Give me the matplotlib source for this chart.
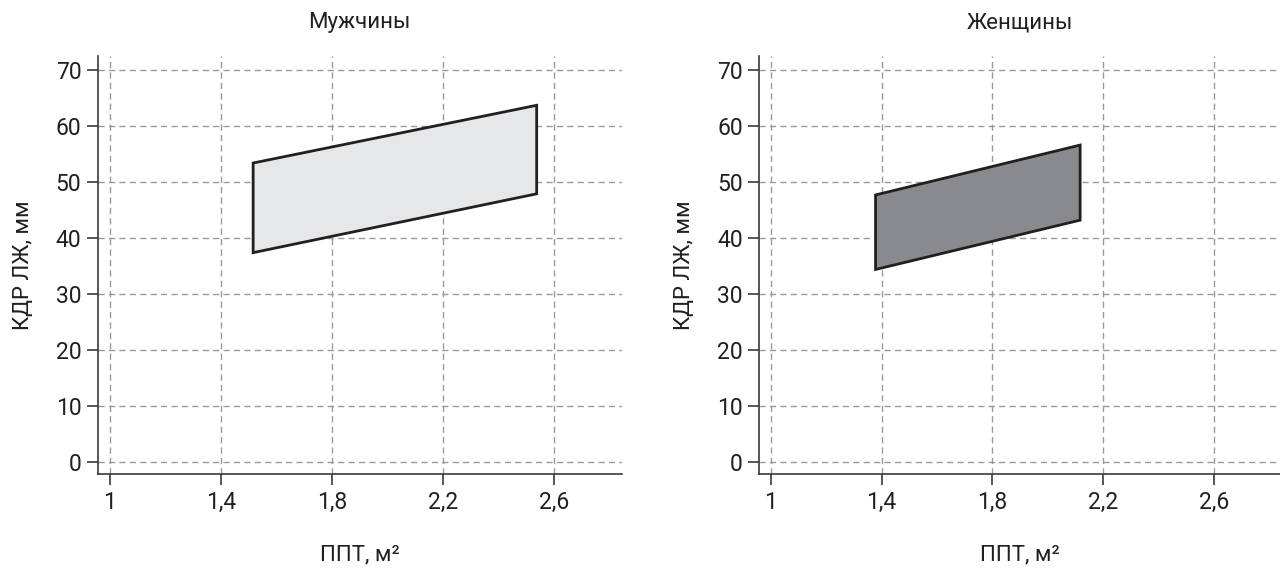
import matplotlib
matplotlib.use("Agg")
import matplotlib.pyplot as plt
from matplotlib.patches import Polygon

# Normal range of LV end-diastolic dimension vs body surface area
panel_titles = ["Мужчины", "Женщины"]
x_label = "ППТ, м²"
y_label = "КДР ЛЖ, мм"

x_ticks = [1.0, 1.4, 1.8, 2.2, 2.6]
x_tick_labels = ["1", "1,4", "1,8", "2,2", "2,6"]
y_ticks = [0, 10, 20, 30, 40, 50, 60, 70]

# Corner points of the normal zone: (BSA, lower, upper)
men_bsa = [1.516, 2.538]
men_lower = [37.4, 47.9]
men_upper = [53.4, 63.7]

women_bsa = [1.378, 2.117]
women_lower = [34.4, 43.2]
women_upper = [47.7, 56.6]

fill_colors = ["#e6e7e8", "#898a8d"]
edge_color = "#231f20"

plt.rcParams["font.family"] = ["Roboto", "DejaVu Sans"]

fig = plt.figure(figsize=(12.8, 5.69), dpi=100)
axes = [
    fig.add_axes([0.0766, 0.167, 0.409, 0.7346]),
    fig.add_axes([0.5932, 0.167, 0.4068, 0.7346]),
]
xlims = [(0.957, 2.844), (0.958, 2.839)]

data = [
    (men_bsa, men_lower, men_upper),
    (women_bsa, women_lower, women_upper),
]

for ax, title, (bsa, lo, hi), fc, xl in zip(axes, panel_titles, data, fill_colors, xlims):
    verts = [(bsa[0], lo[0]), (bsa[1], lo[1]), (bsa[1], hi[1]), (bsa[0], hi[0])]
    ax.add_patch(Polygon(verts, closed=True, facecolor=fc, edgecolor=edge_color,
                         linewidth=2.0, joinstyle="miter", zorder=3))
    ax.set_xlim(*xl)
    ax.set_ylim(-2.1, 72.5)
    ax.set_xticks(x_ticks)
    ax.set_xticklabels(x_tick_labels)
    ax.set_yticks(y_ticks)
    ax.grid(True, color="#9a9a9a", linestyle=(0, (4.5, 3)), linewidth=1.0, zorder=0)
    ax.set_axisbelow(True)
    for side in ("top", "right"):
        ax.spines[side].set_visible(False)
    for side in ("left", "bottom"):
        ax.spines[side].set_color("#3a3a3a")
        ax.spines[side].set_linewidth(1.2)
    ax.tick_params(direction="out", length=8, width=1.2, color="#3a3a3a",
                   labelsize=16.5, labelcolor="#231f20", pad=4)
    ax.set_title(title, fontsize=16, color="#231f20", pad=20)
    ax.set_xlabel(x_label, fontsize=16, color="#231f20", labelpad=22)
    ax.set_ylabel(y_label, fontsize=16, color="#231f20", labelpad=16)

fig.savefig("out.png", dpi=100, facecolor="white")
